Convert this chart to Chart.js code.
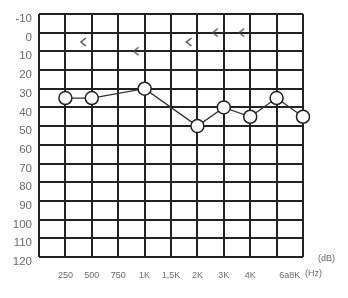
<!DOCTYPE html>
<html>
<head>
<meta charset="utf-8">
<script src="https://cdn.jsdelivr.net/npm/chart.js@4"></script>
<style>
  html, body { margin: 0; padding: 0; background: #fff; }
  #wrap { width: 348px; height: 298px; }
</style>
</head>
<body>
<div id="wrap"><canvas id="audio" width="348" height="298"></canvas></div>
<script>
// audiogram data: frequencies and thresholds in dB HL
const FREQS      = ['250', '500', '750', '1K', '1,5K', '2K', '3K', '4K', '6K', '8K'];
const AIR_DB     = [35, 35, null, 30, null, 50, 40, 45, 35, 45];
const BONE_DB    = [null, 5, null, 10, null, 5, 0, 0, null, null];
const AXIS_NAMES = ['250', '500', '750', '1K', '1,5K', '2K', '3K', '4K', '6a8K'];
const DB_MIN = -10, DB_MAX = 120, DB_STEP = 10;

const INK  = '#222';
const TEXT = '#6a6a6a';
const FONT = "'Liberation Sans', Arial, sans-serif";

// "<" bone-conduction marker, drawn just left of its frequency line
function boneMarker() {
  const c = document.createElement('canvas');
  c.width = 24; c.height = 12;
  const g = c.getContext('2d');
  g.strokeStyle = '#444';
  g.lineWidth = 1.4;
  g.beginPath();
  g.moveTo(6, 2); g.lineTo(1, 6); g.lineTo(6, 10);
  g.stroke();
  return c;
}

const toXY = arr => arr.map((v, i) => ({ x: i + 1, y: v })).filter(p => p.y !== null);

const unitsPlugin = {
  id: 'units',
  afterDraw(chart) {
    const { ctx, chartArea: a } = chart;
    ctx.save();
    ctx.fillStyle = TEXT;
    ctx.font = `9px ${FONT}`;
    ctx.textBaseline = 'middle';
    ctx.textAlign = 'left';
    ctx.fillText('(dB)', a.right + 15, a.bottom + 2);
    ctx.fillText('(Hz)', a.right + 2, a.bottom + 17);
    ctx.restore();
  }
};

new Chart(document.getElementById('audio'), {
  type: 'line',
  data: {
    datasets: [{
      data: toXY(AIR_DB),
      borderColor: '#333',
      borderWidth: 1.3,
      pointRadius: 6.5,
      pointBackgroundColor: '#fff',
      pointBorderColor: INK,
      pointBorderWidth: 1.5,
      tension: 0,
      clip: false,
    }, {
      data: toXY(BONE_DB),
      showLine: false,
      pointStyle: boneMarker(),
      clip: false,
    }],
  },
  options: {
    responsive: false,
    animation: false,
    layout: { padding: { top: 13, right: 45, left: 0, bottom: 0 } },
    plugins: { legend: { display: false }, tooltip: { enabled: false } },
    scales: {
      x: {
        type: 'linear',
        min: 0, max: FREQS.length,
        ticks: { display: false, stepSize: 1 },
        grid: { color: INK, lineWidth: 2, drawTicks: false },
        border: { display: false },
        afterFit: s => { s.height = 0; },
      },
      x2: {
        type: 'linear',
        position: 'bottom',
        min: 0, max: FREQS.length,
        grid: { display: false },
        border: { display: false },
        afterBuildTicks: s => {
          s.ticks = AXIS_NAMES.map((n, i) => ({ value: i < 8 ? i + 1 : (FREQS.length - 1 + FREQS.length) / 2 }));
        },
        ticks: {
          autoSkip: false,
          maxRotation: 0,
          padding: 5,
          color: TEXT,
          font: { family: FONT, size: 9 },
          callback: (v, i) => AXIS_NAMES[i],
        },
        afterFit: s => { s.height = 41; },
      },
      y: {
        reverse: true,
        min: DB_MIN, max: DB_MAX,
        ticks: {
          stepSize: DB_STEP,
          padding: 7,
          labelOffset: 5,
          color: TEXT,
          font: { family: FONT, size: 11.5 },
        },
        grid: { color: INK, lineWidth: 2, drawTicks: false },
        border: { display: false },
        afterFit: s => { s.width = 39; },
      },
    },
  },
  plugins: [unitsPlugin],
});
</script>
</body>
</html>
